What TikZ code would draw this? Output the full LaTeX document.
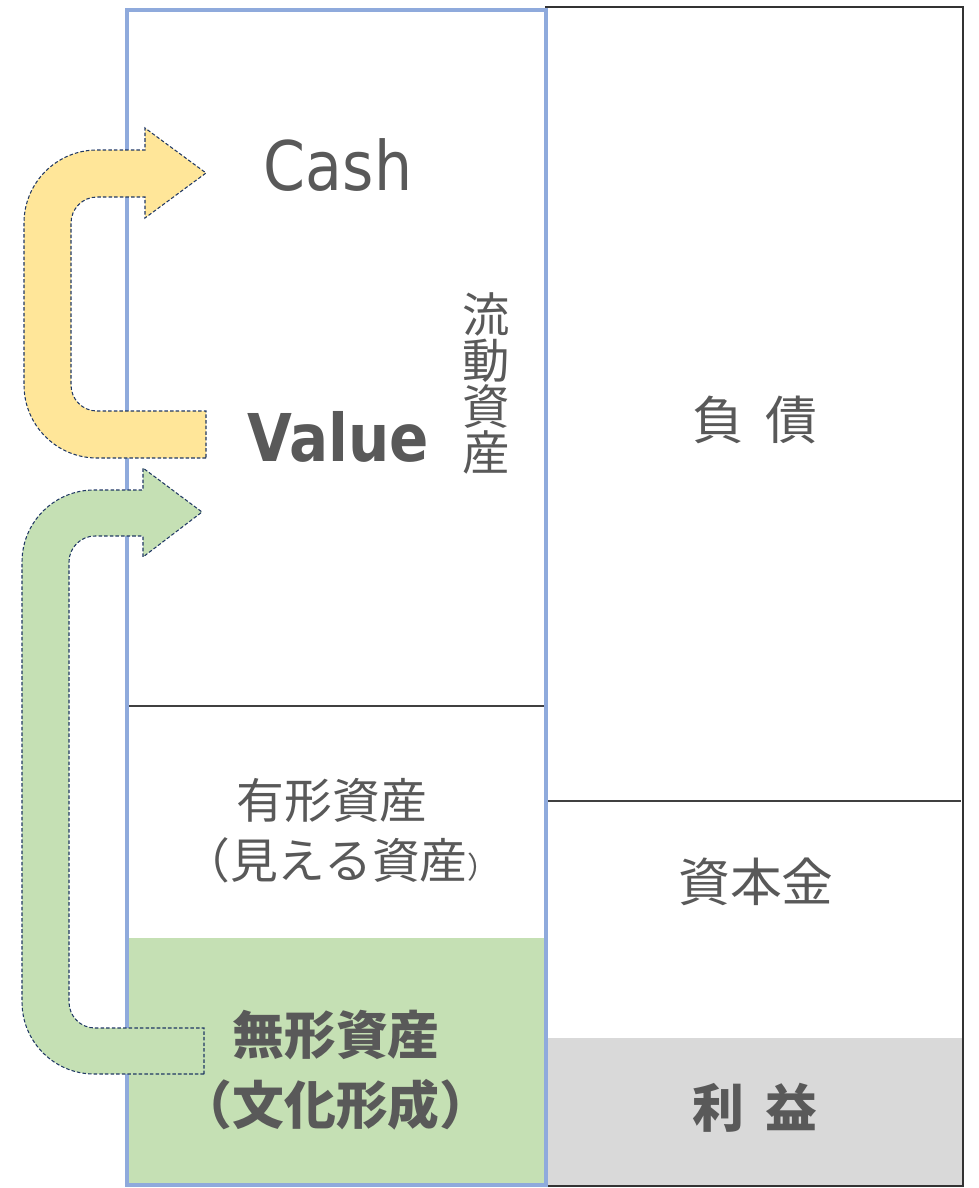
\documentclass[tikz,border=0pt]{standalone}
\usepackage{fontspec}
\usepackage{xcolor}
\usepackage{tikz}
\newfontfamily\jpfont{Noto Sans CJK JP}
\newfontfamily\latinfont[FakeStretch=0.88]{DejaVu Sans}
\definecolor{TextGray}{HTML}{595959}
\definecolor{FrameBlue}{HTML}{8FAADC}
\definecolor{SoftGreen}{HTML}{C5E0B4}
\definecolor{SoftGray}{HTML}{D9D9D9}
\definecolor{SoftYellow}{HTML}{FFE699}
\definecolor{ArrowEdge}{HTML}{203864}

\begin{document}
\begin{tikzpicture}[x=0.02cm, y=-0.02cm,
    lbl/.style={text=TextGray, inner sep=0pt, align=center},
    flowarrow/.style={draw=ArrowEdge, line width=0.6pt, dash pattern=on 2pt off 1.2pt}]
    \useasboundingbox (0,0) rectangle (979,1188);

    % === Fills ===
    \fill[SoftGray] (548,1038) rectangle (963,1186);
    \fill[SoftGreen] (127,938) rectangle (546,1186);

    % === Dividers ===
    \draw[line width=0.8pt, black!75] (129,706) -- (544,706);
    \draw[line width=0.8pt, black!75] (548,801) -- (961,801);

    % === Frames ===
    \draw[line width=0.9pt, black!80] (546,7) rectangle (963,1186);
    \draw[line width=2.6pt, FrameBlue] (127,10) rectangle (546,1185);

    % === Arrow: Value -> Cash ===
    \filldraw[flowarrow, fill=SoftYellow]
    (206,458) -- (97,458)
    arc[start angle=90, end angle=180, radius=73] % outer lower corner
    -- (24,223)
    arc[start angle=180, end angle=270, radius=73] % outer upper corner
    -- (145,150) -- (145,128) -- (206,173) -- (145,218) -- (145,197) -- (97,197)
    arc[start angle=270, end angle=180, radius=26] % inner upper corner
    -- (71,385)
    arc[start angle=180, end angle=90, radius=26] % inner lower corner
    -- (206,411) -- cycle;

    % === Arrow: intangible -> Value ===
    \filldraw[flowarrow, fill=SoftGreen]
    (204,1074) -- (94,1074)
    arc[start angle=90, end angle=180, radius=72]
    -- (22,562)
    arc[start angle=180, end angle=270, radius=72]
    -- (143,490) -- (143,468) -- (202,512) -- (143,557) -- (143,536) -- (95,536)
    arc[start angle=270, end angle=180, radius=26]
    -- (69,1002)
    arc[start angle=180, end angle=90, radius=26]
    -- (204,1028) -- cycle;

    % === Labels ===
    \node[lbl, font=\latinfont\fontsize{38.9}{40}\selectfont] (cash) at (338,165) {Cash};
    \node[lbl, font=\latinfont\bfseries\fontsize{37.5}{40}\selectfont] (value) at (338,437) {Value};
    \node[lbl, font=\jpfont\fontsize{27}{26.2}\selectfont] (current) at (486,383) {流\\動\\資\\産};
    \node[lbl, font=\jpfont\fontsize{27.2}{34}\selectfont] (tangible) at (332,800) {有形資産};
    \node[lbl, font=\jpfont\fontsize{27.2}{34}\selectfont] (visible) at (340,860)
        {（見える資産{\fontsize{17}{17}\selectfont ）}};
    \node[lbl, font=\jpfont\bfseries\fontsize{29.5}{39.7}\selectfont] (intangible) at (336,1070)
        {無形資産\\（文化形成）};
    \node[lbl, font=\jpfont\fontsize{29.5}{36}\selectfont] (debt) at (755,420) {負\hspace{0.42em}債};
    \node[lbl, font=\jpfont\fontsize{29.5}{36}\selectfont] (capital) at (756,882) {資本金};
    \node[lbl, font=\jpfont\bfseries\fontsize{29.5}{36}\selectfont] (profit) at (755,1108) {利\hspace{0.42em}益};
\end{tikzpicture}
\end{document}
